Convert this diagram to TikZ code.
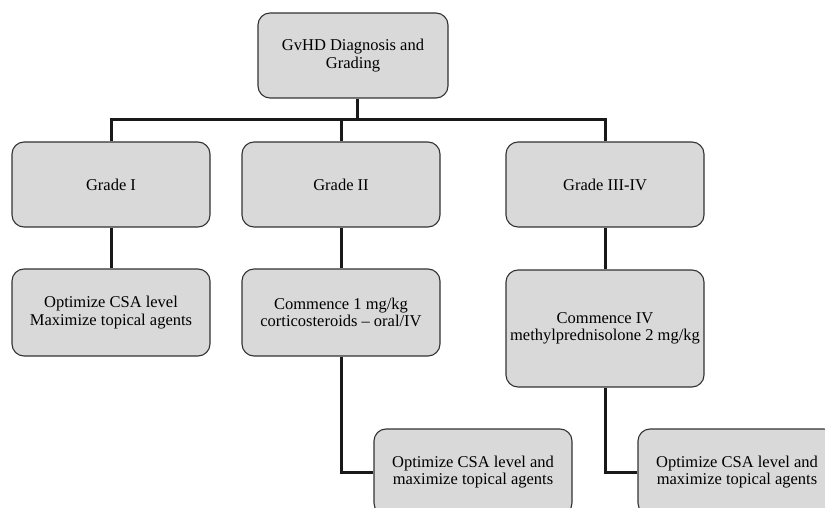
\documentclass[tikz,border=0pt]{standalone}
\usepackage{fontspec}
\setmainfont{Liberation Serif}
\begin{document}
\begin{tikzpicture}[x=1pt,y=-1pt,
  box/.style={draw=black!80, line width=1.1pt, fill=black!15, rounded corners=12pt,
    minimum width=198pt, align=center, inner sep=0pt,
    font=\fontsize{16.5}{17.5}\selectfont},
  conn/.style={line width=3pt, black!90}]
\useasboundingbox (0,0) rectangle (825,508);
\clip (0,0) rectangle (825,508);
\node[box, minimum width=190pt, minimum height=85pt] (top) at (353,55.5) {GvHD Diagnosis and\\Grading};
\node[box, minimum height=85pt] (g1) at (111,184.5) {Grade I};
\node[box, minimum height=85pt] (g2) at (341,184.5) {Grade II};
\node[box, minimum height=85pt] (g3) at (605,184.5) {Grade III-IV};
\node[box, minimum height=87pt] (l1) at (111,312.5) {Optimize CSA level\\Maximize topical agents};
\node[box, minimum height=87pt] (l2) at (341,312.5) {Commence 1 mg/kg\\corticosteroids -- oral/IV};
\node[box, minimum height=117pt] (l3) at (605,328.5) {Commence IV\\methylprednisolone 2 mg/kg};
\node[box, minimum height=86pt] (b2) at (473,472) {Optimize CSA level and\\maximize topical agents};
\node[box, minimum height=86pt] (b3) at (737,472) {Optimize CSA level and\\maximize topical agents};
\coordinate (bar) at (0,120);
\coordinate (topj) at ([xshift=4pt]top.south);
\draw[conn] (topj) -- (topj |- bar);
\draw[conn] ([xshift=-1.5pt]g1.north |- bar) -- ([xshift=1.5pt]g3.north |- bar);
\draw[conn] (g1.north |- bar) -- (g1.north);
\draw[conn] (g2.north |- bar) -- (g2.north);
\draw[conn] (g3.north |- bar) -- (g3.north);
\draw[conn] (g1) -- (l1);
\draw[conn] (g2) -- (l2);
\draw[conn] (g3) -- (l3);
\draw[conn] (l2.south) |- (b2.west);
\draw[conn] (l3.south) |- (b3.west);
\end{tikzpicture}
\end{document}
